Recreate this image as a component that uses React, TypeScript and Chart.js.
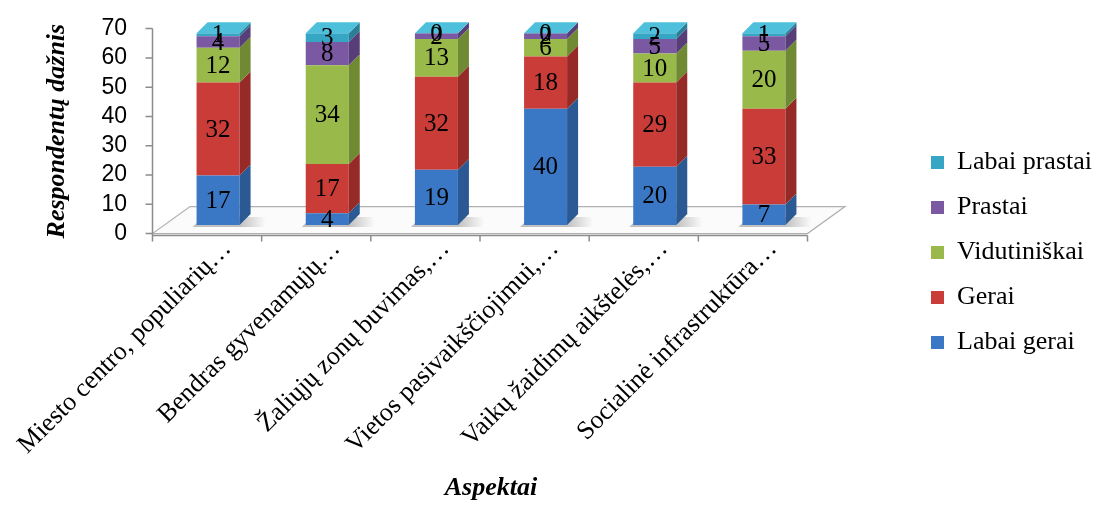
import React, { useEffect, useRef } from "react";
import { Chart, registerables } from "chart.js";

Chart.register(...registerables);

// ---------- data ----------
const CATEGORIES = [
  "Miesto centro, populiarių…",
  "Bendras gyvenamųjų…",
  "Žaliųjų zonų buvimas,…",
  "Vietos pasivaikščiojimui,…",
  "Vaikų žaidimų aikštelės,…",
  "Socialinė infrastruktūra…",
];
const SERIES_NAMES = ["Labai gerai", "Gerai", "Vidutiniškai", "Prastai", "Labai prastai"];
const LABAI_GERAI = [17, 4, 19, 40, 20, 7];
const GERAI = [32, 17, 32, 18, 29, 33];
const VIDUTINISKAI = [12, 34, 13, 6, 10, 20];
const PRASTAI = [4, 8, 2, 2, 5, 5];
const LABAI_PRASTAI = [1, 3, 0, 0, 2, 1];
const Y_TICKS = [0, 10, 20, 30, 40, 50, 60, 70];
const X_TITLE = "Aspektai";
const Y_TITLE = "Respondentų dažnis";

// ---------- styles ----------
const SERIF = "'Liberation Serif', 'Times New Roman', serif";
const SANS = "'Liberation Sans', Arial, sans-serif";
const FRONT = ["#3A78C6", "#C93C37", "#99B94A", "#7A58A2", "#36A6C4"];
const SIDE = ["#2A5994", "#962A27", "#6F8A32", "#583E79", "#2A7E96"];
const TOP = ["#5B93DA", "#E0605A", "#B5D160", "#9575BE", "#4EC0DC"];
const DEPTH_X = 11;
const DEPTH_Y = 11;
const FRONT_SHIFT_X = -11; // front plane (axes) relative to bars
const BACK_SHIFT_X = 26.5;
const BACK_SHIFT_Y = -27;
const LABEL_DX = 14; // category label end relative to bar centre
const LABEL_DY = 16; // below plot bottom
const LEGEND_W = 189;
const PLOT_TOP = 28.6;
const PLOT_BOTTOM = 233.6;
const PLOT_LEFT = 163.5;
const PLOT_RIGHT = 818.5;

const threeD = {
  id: "threeD",
  beforeLayout(chart: any) {
    const lg = chart.legend;
    if (lg && !lg._fixedW) {
      const orig = lg.fit.bind(lg);
      lg.fit = () => {
        orig();
        lg.width = LEGEND_W;
      };
      lg._fixedW = true;
    }
  },
  beforeDatasetsDraw(chart: any) {
    const { ctx, chartArea } = chart;
    const yl = chart.scales.yl;
    const bottom = yl.getPixelForValue(0);
    const fl = chartArea.left + FRONT_SHIFT_X;
    const fr = chartArea.right + FRONT_SHIFT_X;
    const bl = chartArea.left + BACK_SHIFT_X;
    const br = chartArea.right + BACK_SHIFT_X;
    const by = bottom + BACK_SHIFT_Y;
    ctx.save();
    // floor
    ctx.beginPath();
    ctx.moveTo(fl, bottom);
    ctx.lineTo(fr, bottom);
    ctx.lineTo(br, by);
    ctx.lineTo(bl, by);
    ctx.closePath();
    ctx.fillStyle = "#fbfbfb";
    ctx.fill();
    ctx.strokeStyle = "#b0b0b0";
    ctx.lineWidth = 1.2;
    ctx.stroke();
    // bar shadows on floor
    const meta0 = chart.getDatasetMeta(0);
    meta0.data.forEach((el: any) => {
      const p = el.getProps(["x", "base", "width"], true);
      const g = ctx.createLinearGradient(p.x + p.width / 2, 0, p.x + p.width / 2 + 26, 0);
      g.addColorStop(0, "rgba(120,120,120,0.45)");
      g.addColorStop(1, "rgba(120,120,120,0)");
      ctx.fillStyle = g;
      ctx.beginPath();
      ctx.moveTo(p.x - p.width / 2 - 4, p.base + 2);
      ctx.lineTo(p.x + p.width / 2 + 26, p.base + 2);
      ctx.lineTo(p.x + p.width / 2 + 26, p.base - 8);
      ctx.lineTo(p.x - p.width / 2 + 6, p.base - 8);
      ctx.closePath();
      ctx.fill();
    });
    // y axis line + ticks
    ctx.strokeStyle = "#8c8c8c";
    ctx.lineWidth = 1.5;
    ctx.beginPath();
    ctx.moveTo(fl, yl.getPixelForValue(Y_TICKS[Y_TICKS.length - 1]));
    ctx.lineTo(fl, bottom + 2);
    Y_TICKS.forEach((v) => {
      const py = yl.getPixelForValue(v);
      ctx.moveTo(fl - 7, py);
      ctx.lineTo(fl, py);
    });
    // x axis line + ticks
    const ay = bottom + 2;
    ctx.moveTo(fl, ay);
    ctx.lineTo(fr, ay);
    const n = CATEGORIES.length;
    for (let i = 0; i <= n; i++) {
      const px = fl + ((fr - fl) * i) / n;
      ctx.moveTo(px, ay);
      ctx.lineTo(px, ay + 6);
    }
    ctx.stroke();
    ctx.restore();
  },
  afterDatasetsDraw(chart: any) {
    const { ctx } = chart;
    const nd = chart.data.datasets.length;
    ctx.save();
    for (let d = 0; d < nd; d++) {
      const meta = chart.getDatasetMeta(d);
      meta.data.forEach((el: any) => {
        const p = el.getProps(["x", "y", "base", "width"], true);
        const r = p.x + p.width / 2;
        if (Math.abs(p.base - p.y) > 0.1) {
          ctx.fillStyle = SIDE[d];
          ctx.beginPath();
          ctx.moveTo(r, p.y);
          ctx.lineTo(r + DEPTH_X, p.y - DEPTH_Y);
          ctx.lineTo(r + DEPTH_X, p.base - DEPTH_Y);
          ctx.lineTo(r, p.base);
          ctx.closePath();
          ctx.fill();
        }
        if (d === nd - 1) {
          const l = p.x - p.width / 2;
          ctx.fillStyle = TOP[d];
          ctx.beginPath();
          ctx.moveTo(l, p.y);
          ctx.lineTo(l + DEPTH_X, p.y - DEPTH_Y);
          ctx.lineTo(r + DEPTH_X, p.y - DEPTH_Y);
          ctx.lineTo(r, p.y);
          ctx.closePath();
          ctx.fill();
        }
      });
    }
    // value labels
    ctx.fillStyle = "#000";
    ctx.font = `25px ${SERIF}`;
    ctx.textAlign = "center";
    ctx.textBaseline = "middle";
    for (let d = 0; d < nd; d++) {
      const meta = chart.getDatasetMeta(d);
      const vals = chart.data.datasets[d].data;
      meta.data.forEach((el: any, i: number) => {
        const p = el.getProps(["x", "y", "base"], true);
        ctx.fillText(String(vals[i]), p.x, (p.y + p.base) / 2 + 1);
      });
    }
    // rotated category labels, placed from the category scale
    const xs = chart.scales.x;
    const bottom = chart.scales.yl.getPixelForValue(0);
    ctx.font = `26px ${SERIF}`;
    ctx.textAlign = "right";
    ctx.textBaseline = "alphabetic";
    CATEGORIES.forEach((label, i) => {
      ctx.save();
      ctx.translate(xs.getPixelForValue(i) + LABEL_DX, bottom + LABEL_DY);
      ctx.rotate(-Math.PI / 4);
      ctx.fillText(label, 0, 0);
      ctx.restore();
    });
    ctx.restore();
  },
};

export default function App() {
  const ref = useRef<HTMLCanvasElement | null>(null);
  useEffect(() => {
    document.body.style.margin = "0";
    document.body.style.overflow = "hidden";
    const series = [LABAI_GERAI, GERAI, VIDUTINISKAI, PRASTAI, LABAI_PRASTAI];
    const chart = new Chart(ref.current as HTMLCanvasElement, {
      type: "bar",
      data: {
        labels: CATEGORIES,
        datasets: series.map((s, i) => ({
          label: SERIES_NAMES[i],
          data: s,
          backgroundColor: FRONT[i],
          borderWidth: 0,
          xAxisID: "x",
          yAxisID: "y",
          barPercentage: 0.394,
          categoryPercentage: 1,
        })),
      },
      options: {
        responsive: false,
        animation: false,
        layout: { padding: 0 },
        plugins: {
          tooltip: { enabled: false },
          legend: {
            position: "right",
            reverse: true,
            labels: {
              boxWidth: 13,
              boxHeight: 13,
              padding: 19,
              color: "#000",
              font: { family: SERIF, size: 26 },
            },
          },
        },
        scales: {
          x: {
            type: "category",
            stacked: true,
            position: "bottom",
            ticks: { display: false },
            grid: { display: false, drawTicks: false },
            border: { display: false },
            afterFit: (s: any) => {
              s.height = 505 - PLOT_BOTTOM;
              s.paddingLeft = 0;
              s.paddingRight = 0;
            },
            title: {
              display: true,
              text: X_TITLE,
              color: "#000",
              padding: { top: 0, bottom: 1 },
              font: { family: SERIF, size: 26, weight: "bold", style: "italic" },
            },
          },
          y: {
            type: "linear",
            position: "right",
            stacked: true,
            bounds: "data",
            min: -3,
            max: 67.6,
            ticks: { display: false },
            grid: { display: false, drawTicks: false },
            border: { display: false },
            afterFit: (s: any) => {
              s.width = 1101 - PLOT_RIGHT - LEGEND_W;
              s.paddingTop = 0;
              s.paddingBottom = 0;
            },
          },
          yl: {
            type: "linear",
            axis: "y",
            position: "left",
            bounds: "data",
            min: 0,
            max: 70,
            afterBuildTicks: (s: any) => {
              s.ticks = Y_TICKS.map((v) => ({ value: v }));
            },
            afterFit: (s: any) => {
              s.width = PLOT_LEFT;
              s.paddingTop = PLOT_TOP;
              s.paddingBottom = 0;
            },
            ticks: {
              autoSkip: false,
              padding: 36.5,
              color: "#000",
              font: { family: SANS, size: 23 },
            },
            grid: { display: false, drawTicks: false },
            border: { display: false },
            title: {
              display: true,
              text: Y_TITLE,
              color: "#000",
              padding: { top: 42, bottom: 0 },
              font: { family: SERIF, size: 26, weight: "bold", style: "italic" },
            },
          },
        },
      } as any,
      plugins: [threeD],
    });
    return () => chart.destroy();
  }, []);
  return <canvas ref={ref} width={1101} height={505} />;
}
